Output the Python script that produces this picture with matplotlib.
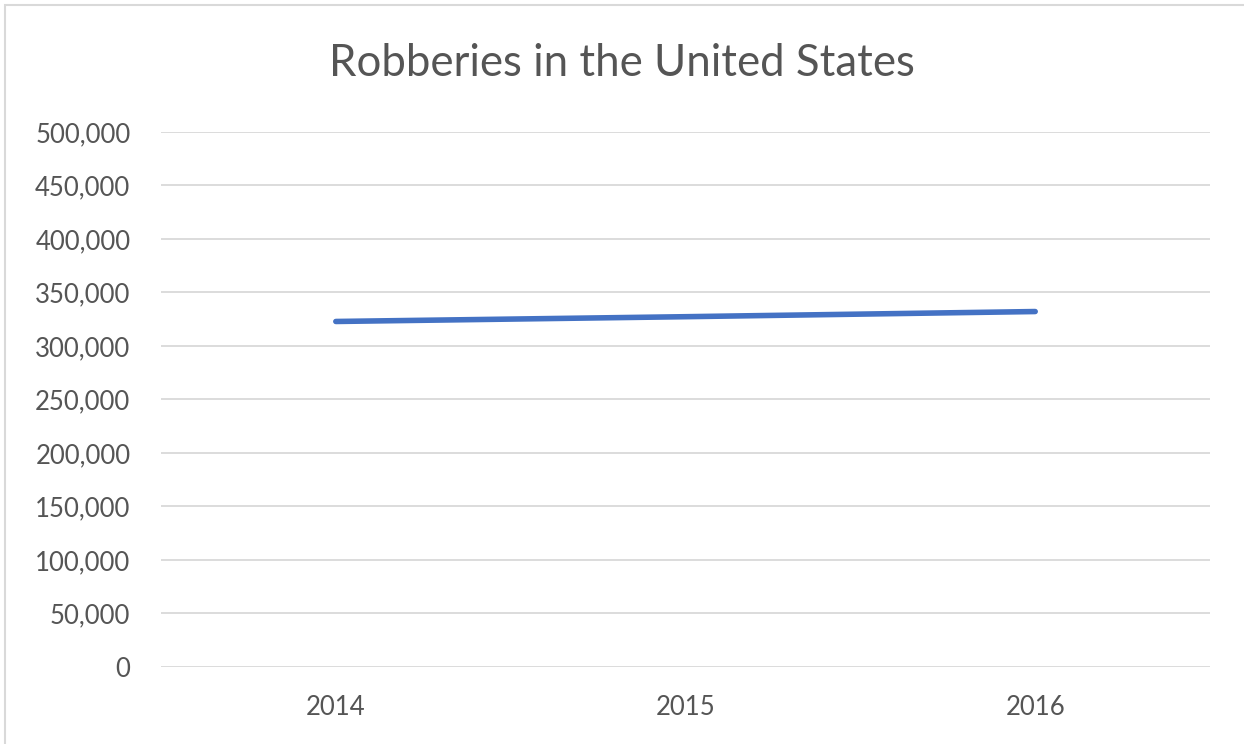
import matplotlib.pyplot as plt
from matplotlib.patches import Rectangle
from matplotlib.ticker import FuncFormatter

# Robberies per year
years = ['2014', '2015', '2016']
robberies = [322905, 327374, 332198]
y_ticks = list(range(0, 500001, 50000))

text_color = '#555555'
grid_color = '#D9D9D9'
line_color = '#4472C4'

plt.rcParams['font.family'] = ['Lato', 'DejaVu Sans']

fig = plt.figure(figsize=(12.44, 7.44), dpi=100)
ax = fig.add_axes([0.1294, 0.1035, 0.8433, 0.7191])

x = list(range(len(years)))
ax.plot(x, robberies, color=line_color, linewidth=4.0, solid_capstyle='round')

ax.set_xlim(-0.5, len(years) - 0.5)
ax.set_ylim(0, 500000)
ax.set_xticks(x)
ax.set_xticklabels(years)
ax.set_yticks(y_ticks)
ax.yaxis.set_major_formatter(FuncFormatter(lambda v, p: f'{int(v):,}'))

ax.grid(axis='y', color=grid_color, linewidth=1.3)
ax.set_axisbelow(True)
for s in ax.spines.values():
    s.set_visible(False)
ax.tick_params(axis='both', length=0, labelsize=18.5, colors=text_color)
ax.tick_params(axis='y', pad=22)
ax.tick_params(axis='x', pad=20)

fig.text(0.5, 0.915, 'Robberies in the United States', ha='center', va='center',
         fontsize=31.5, color=text_color)

# chart frame
fig.patches.append(Rectangle((0.004, -0.01), 1.2, 1.003, transform=fig.transFigure,
                             fill=False, edgecolor=grid_color, linewidth=1.5))

fig.savefig('out.png', dpi=100)
